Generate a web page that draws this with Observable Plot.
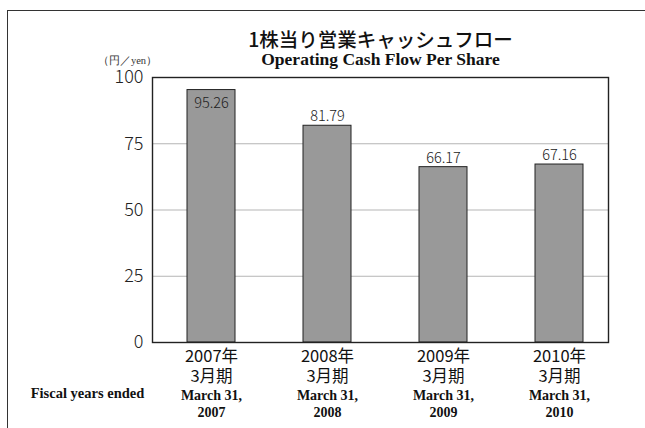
<!DOCTYPE html>
<html>
<head>
<meta charset="utf-8">
<script src="https://cdn.jsdelivr.net/npm/d3@7"></script>
<script src="https://cdn.jsdelivr.net/npm/@observablehq/plot@0.6"></script>
<style>
  html, body { margin: 0; padding: 0; background: #fff; width: 645px; height: 428px; overflow: hidden; }
  #wrap { position: relative; width: 645px; height: 428px; }
  #border { position: absolute; left: 7px; top: 10px; width: 700px; height: 500px;
            border-left: 1.6px solid #333; border-top: 1.6px solid #333; }
  #chart { position: absolute; left: 0; top: 0; }
</style>
</head>
<body>
<div id="wrap"><div id="border"></div><div id="chart"></div></div>
<script>
const categories = ["2007", "2008", "2009", "2010"];
const values = [95.26, 81.79, 66.17, 67.16];
const jpLabels = ["2007年\n3月期", "2008年\n3月期", "2009年\n3月期", "2010年\n3月期"];
const enLabels = ["March 31,\n2007", "March 31,\n2008", "March 31,\n2009", "March 31,\n2010"];
const yTicks = [0, 25, 50, 75, 100];
const gridTicks = [25, 50, 75];
const titleJa = "1株当り営業キャッシュフロー";
const titleEn = "Operating Cash Flow Per Share";
const unitLabel = "（円／yen）";
const fiscalLabel = "Fiscal years ended";

const data = categories.map((c, i) => ({cat: c, value: values[i], label: values[i].toFixed(2), ja: jpLabels[i], en: enLabels[i]}));
const inside = data.filter(d => d.value > 90);
const outside = data.filter(d => d.value <= 90);

const gothic = "'Noto Sans CJK JP', 'Noto Sans', sans-serif";
const serif = "'Liberation Serif', 'DejaVu Serif', serif";

const chart = Plot.plot({
  width: 645,
  height: 428,
  marginLeft: 152,
  marginRight: 37,
  marginTop: 77,
  marginBottom: 86,
  style: {background: "transparent", color: "#222"},
  x: {domain: categories, range: [153, 617], paddingInner: 0.586, paddingOuter: 0.293, axis: null},
  y: {domain: [0, 100], axis: null},
  marks: [
    Plot.gridY(gridTicks, {stroke: "#b5b5b5", strokeOpacity: 1, strokeWidth: 1}),
    Plot.barY(data, {x: "cat", y: "value", fill: "#999999", stroke: "#222", strokeWidth: 1}),
    Plot.frame({stroke: "#222", strokeWidth: 1.4}),
    Plot.axisY(yTicks, {label: null, tickSize: 0, tickPadding: 9, fontSize: 18, fontWeight: 300, fontFamily: gothic, fill: "#222"}),
    Plot.text(inside, {x: "cat", y: "value", text: "label", dy: 13, fontSize: 14.5, fontWeight: 300, fontFamily: gothic, fill: "#222"}),
    Plot.text(outside, {x: "cat", y: "value", text: "label", dy: -9, fontSize: 14.5, fontWeight: 300, fontFamily: gothic, fill: "#222"}),
    Plot.text(data, {x: "cat", text: "ja", frameAnchor: "bottom", dy: 6, lineAnchor: "top", lineHeight: 1.18, fontSize: 16.5, fontFamily: gothic, fill: "#111"}),
    Plot.text(data, {x: "cat", text: "en", frameAnchor: "bottom", dy: 46, lineAnchor: "top", lineHeight: 1.18, fontSize: 14, fontWeight: "bold", fontFamily: serif, fill: "#111"}),
    Plot.text([fiscalLabel], {frameAnchor: "bottom-left", dx: -65, dy: 55, textAnchor: "middle", fontSize: 14.5, fontWeight: "bold", fontFamily: serif, fill: "#111"}),
    Plot.text([titleJa], {frameAnchor: "top", dy: -44, fontSize: 19.5, fontWeight: 500, fontFamily: gothic, fill: "#111"}),
    Plot.text([titleEn], {frameAnchor: "top", dy: -25, fontSize: 17.5, fontWeight: "bold", fontFamily: serif, fill: "#111"}),
    Plot.text([unitLabel], {frameAnchor: "top-left", dx: -25, dy: -21, textAnchor: "middle", fontSize: 10.5, fontFamily: serif, fill: "#333"})
  ]
});
document.getElementById("chart").appendChild(chart);
</script>
</body>
</html>
